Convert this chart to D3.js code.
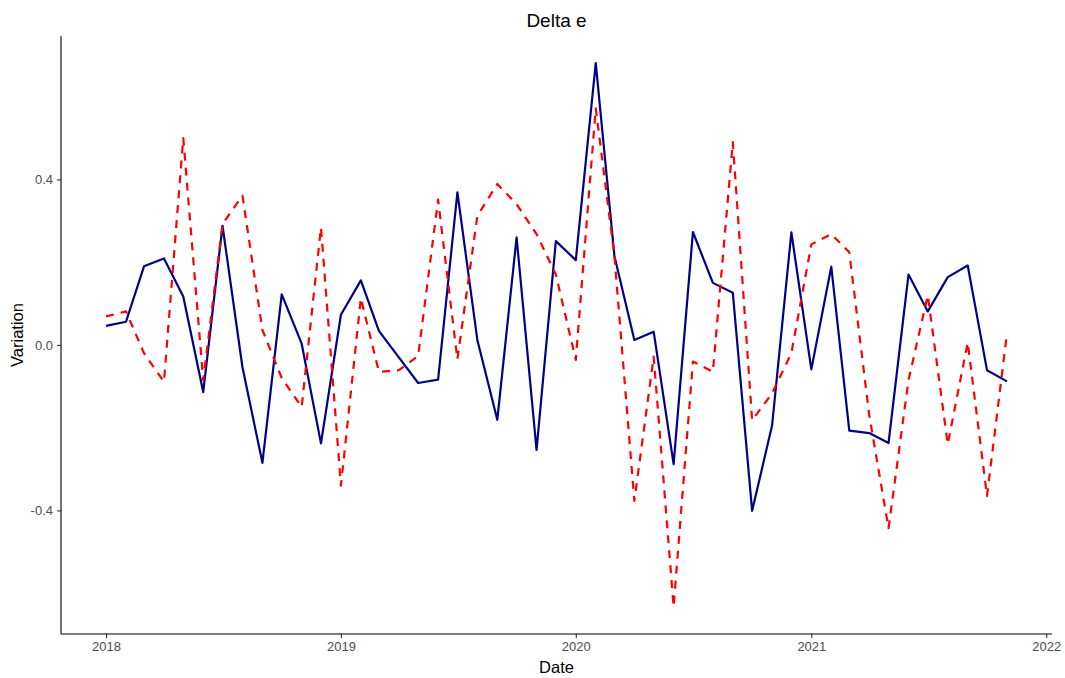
<!DOCTYPE html>
<html>
<head>
<meta charset="utf-8">
<script src="https://cdn.jsdelivr.net/npm/d3@7"></script>
<style>
  html, body { margin: 0; padding: 0; background: #fff; }
  svg { display: block; font-family: "Liberation Sans", Arial, sans-serif; }
</style>
</head>
<body>
<svg id="chart" width="1065" height="678"></svg>
<script>
// Monthly observations, Jan 2018 – Nov 2021
const startMonth = "2018-01";
const observed = [0.046, 0.056, 0.19, 0.209, 0.117, -0.114, 0.288, -0.054, -0.285, 0.122,
  0.003, -0.238, 0.073, 0.156, 0.034, -0.03, -0.092, -0.084, 0.369, 0.012,
  -0.181, 0.26, -0.254, 0.251, 0.205, 0.681, 0.215, 0.012, 0.032, -0.288,
  0.273, 0.15, 0.126, -0.401, -0.195, 0.272, -0.059, 0.189, -0.207, -0.213,
  -0.237, 0.17, 0.081, 0.164, 0.192, -0.061, -0.088];
const predicted = [0.069, 0.081, -0.02, -0.089, 0.5, -0.085, 0.292, 0.361, 0.036, -0.08,
  -0.15, 0.284, -0.34, 0.113, -0.065, -0.061, -0.027, 0.351, -0.035, 0.312,
  0.389, 0.34, 0.268, 0.17, -0.036, 0.572, 0.215, -0.377, -0.028, -0.633,
  -0.04, -0.065, 0.49, -0.182, -0.117, -0.02, 0.243, 0.268, 0.224, -0.17,
  -0.443, -0.085, 0.12, -0.24, 0.006, -0.365, 0.028];
const yTicks = [-0.4, 0.0, 0.4];
const xTickYears = [2018, 2019, 2020, 2021, 2022];

const parseMonth = d3.utcParse("%Y-%m");
const dates = observed.map((_, i) => d3.utcMonth.offset(parseMonth(startMonth), i));

const svg = d3.select("#chart");
const margin = { left: 61, right: 13, top: 36, bottom: 44 };
const W = 1065, H = 678;
const x0 = margin.left, x1 = W - margin.right, y0 = margin.top, y1 = H - margin.bottom;

// ggplot-style 5% expansion of the data range
function expand(ext, f) { const d = ext[1] - ext[0]; return [ext[0] - d * f, ext[1] + d * f]; }
const tExt = d3.extent(dates).map(d => +d);
const x = d3.scaleUtc().domain(expand(tExt, 0.05).map(t => new Date(t))).range([x0, x1]);
const y = d3.scaleLinear().domain(expand(d3.extent(observed.concat(predicted)), 0.05)).range([y1, y0]);

// Plain hyphen-minus for negative tick labels
const fmt = d3.formatLocale({ decimal: ".", thousands: ",", grouping: [3], currency: ["", ""], minus: "-" }).format(".1f");

// Axes (classic theme: black axis lines, grey labels)
const xAxis = d3.axisBottom(x)
  .tickValues(xTickYears.map(yr => new Date(Date.UTC(yr, 0, 1))))
  .tickFormat(d3.utcFormat("%Y")).tickSize(4).tickPadding(4);
const gx = svg.append("g").attr("transform", `translate(0,${y1})`).call(xAxis);
gx.select(".domain").remove();
gx.append("line").attr("x1", x0).attr("x2", x1).attr("stroke", "#000").attr("stroke-width", 1.1);
gx.selectAll(".tick line").attr("stroke", "#333").attr("stroke-width", 1.1);
gx.selectAll(".tick text").attr("fill", "#4d4d4d").attr("font-size", 13);

const yAxis = d3.axisLeft(y).tickValues(yTicks).tickFormat(fmt).tickSize(4).tickPadding(4);
const gy = svg.append("g").attr("transform", `translate(${x0},0)`).call(yAxis);
gy.select(".domain").remove();
gy.append("line").attr("y1", y0).attr("y2", y1).attr("stroke", "#000").attr("stroke-width", 1.1);
gy.selectAll(".tick line").attr("stroke", "#333").attr("stroke-width", 1.1);
gy.selectAll(".tick text").attr("fill", "#4d4d4d").attr("font-size", 13);

// Series
const line = vals => d3.line().x((_, i) => x(dates[i])).y(v => y(v))(vals);

svg.append("path").attr("d", line(observed))
  .attr("fill", "none").attr("stroke", "#00008b").attr("stroke-width", 2.2)
  .attr("stroke-linejoin", "round");

svg.append("path").attr("d", line(predicted))
  .attr("fill", "none").attr("stroke", "#ff0000").attr("stroke-width", 2.2)
  .attr("stroke-dasharray", "8,7").attr("stroke-linejoin", "round");

// Titles
svg.append("text").attr("x", (x0 + x1) / 2).attr("y", 27).attr("text-anchor", "middle")
  .attr("font-size", 19).attr("fill", "#000").text("Delta e");
svg.append("text").attr("x", (x0 + x1) / 2).attr("y", 673).attr("text-anchor", "middle")
  .attr("font-size", 16.5).attr("fill", "#000").text("Date");
svg.append("text").attr("transform", `translate(23,${(y0 + y1) / 2}) rotate(-90)`)
  .attr("text-anchor", "middle").attr("font-size", 16.5).attr("fill", "#000").text("Variation");
</script>
</body>
</html>
